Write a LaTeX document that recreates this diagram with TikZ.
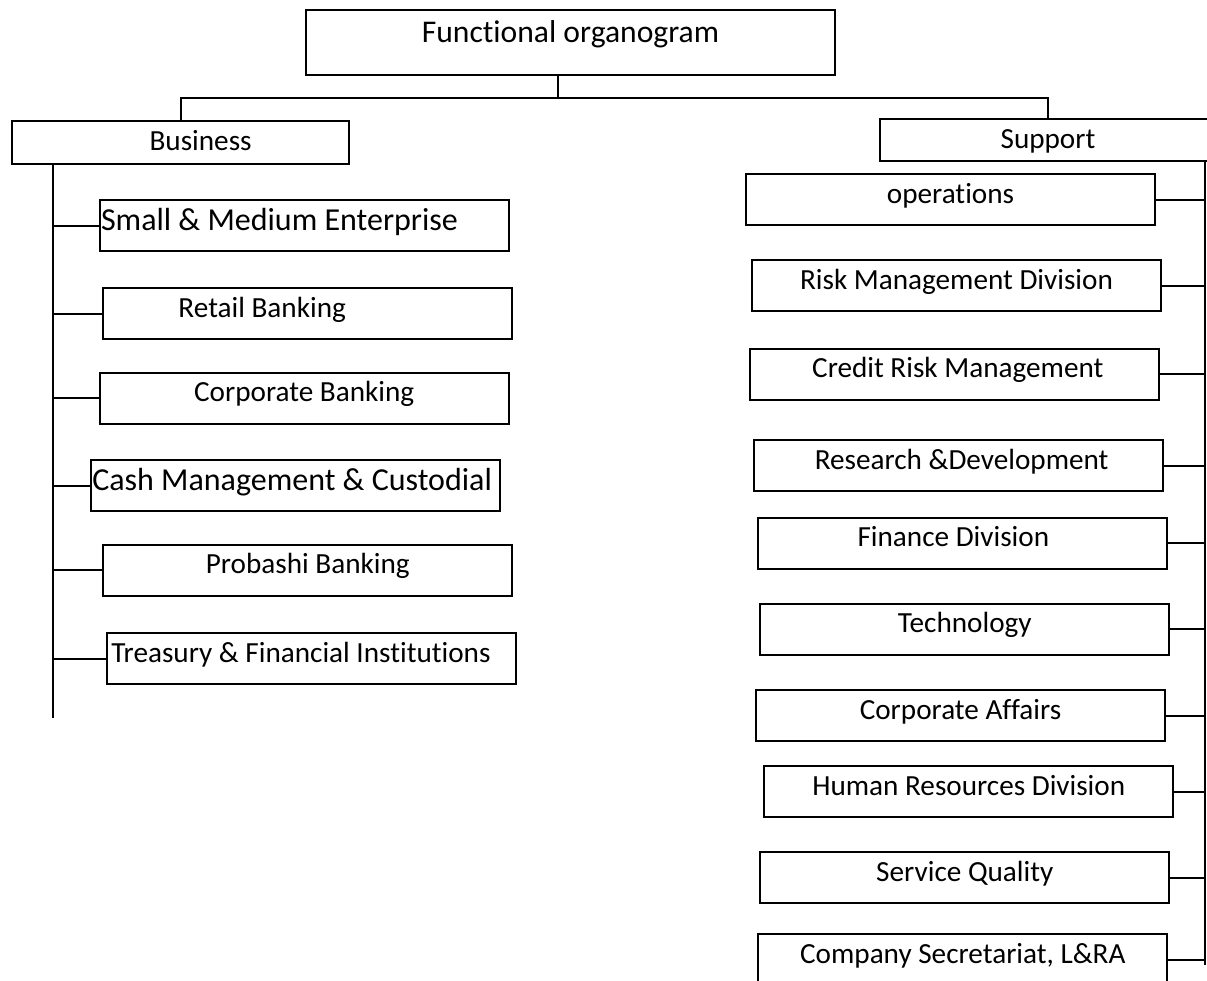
\documentclass[tikz,border=0pt]{standalone}
\usepackage{fontspec}
\setmainfont{Carlito}[Ligatures=NoCommon]
\usepackage{tikz}

\begin{document}
\begin{tikzpicture}[
  x=0.5pt, y=-0.5pt,
  every node/.style={font=\fontsize{14.6pt}{17pt}\selectfont},
  box/.style={rectangle, draw, line width=1pt, inner xsep=0pt, inner ysep=0pt, anchor=north west,
    minimum width=204.5pt, text height=14.5pt, text depth=11pt},
  bigbox/.style={box, font=\fontsize{16pt}{19pt}\selectfont, text height=15.2pt, text depth=10.3pt},
  headbox/.style={box, text depth=7pt},
  link/.style={line width=1pt}
]
  \fill[white, use as bounding box] (0,0) rectangle (1207,981);
  \clip (0,0) rectangle (1207,981);

  \node[box, font=\fontsize{15.8pt}{19pt}\selectfont, minimum width=264.5pt, text height=16.2pt, text depth=16.2pt] (top) at (305,9.3) {Functional organogram};
  \node[headbox, minimum width=168.7pt] (biz) at (11,120) {\hspace*{19.9pt}Business};
  \node[headbox, minimum width=168pt, text height=15pt, text depth=6.2pt] (sup) at (879,117.7) {Support};

  \node[bigbox] (sme) at (99,199) {\makebox[203.5pt][l]{Small \& Medium Enterprise}};
  \node[box] (retail) at (102.3,287.3) {Retail Banking\hspace*{45.6pt}};
  \node[box] (corp) at (98.7,371.7) {Corporate Banking};
  \node[bigbox] (cash) at (90.3,459.3) {\makebox[203.5pt][l]{Cash Management \& Custodial}};
  \node[box] (probashi) at (102.3,543.7) {Probashi Banking};
  \node[box] (treasury) at (106.3,632) {\makebox[202.5pt][l]{\hspace*{1pt}Treasury \& Financial Institutions}};

  \node[box] (ops) at (745,173.3) {operations};
  \node[box] (rmd) at (751,259.3) {Risk Management Division};
  \node[box] (crm) at (749.3,347.7) {\hspace*{3pt}Credit Risk Management};
  \node[box] (rnd) at (753.3,439.3) {\hspace*{2.8pt}Research \&Development};
  \node[box] (finance) at (757.3,516.7) {Finance Division\hspace*{9.4pt}};
  \node[box] (tech) at (759.3,602.7) {Technology};
  \node[box] (affairs) at (755,689) {Corporate Affairs};
  \node[box] (hr) at (763.3,765) {Human Resources Division};
  \node[box] (quality) at (759.3,851) {Service Quality};
  \node[box] (secretariat) at (757.3,933.3) {Company Secretariat, L\&RA};

  \coordinate (split) at (558,97.5);
  \coordinate (bizend) at (52.7,718);
  \coordinate (supend) at (1205,965);

  \draw[link] (top.south -| split) -- (split);
  \draw[link] (biz.north) -- (biz.north |- split) -| (sup.north);

  \draw[link] (biz.south -| bizend) -- (bizend);
  \draw[link] (sme.west) -- (sme.west -| bizend);
  \draw[link] (retail.west) -- (retail.west -| bizend);
  \draw[link] (corp.west) -- (corp.west -| bizend);
  \draw[link] (cash.west) -- (cash.west -| bizend);
  \draw[link] (probashi.west) -- (probashi.west -| bizend);
  \draw[link] (treasury.west) -- (treasury.west -| bizend);

  \draw[link] (sup.south -| supend) -- (supend);
  \draw[link] (ops.east) -- (ops.east -| supend);
  \draw[link] (rmd.east) -- (rmd.east -| supend);
  \draw[link] (crm.east) -- (crm.east -| supend);
  \draw[link] (rnd.east) -- (rnd.east -| supend);
  \draw[link] (finance.east) -- (finance.east -| supend);
  \draw[link] (tech.east) -- (tech.east -| supend);
  \draw[link] (affairs.east) -- (affairs.east -| supend);
  \draw[link] (hr.east) -- (hr.east -| supend);
  \draw[link] (quality.east) -- (quality.east -| supend);
  \draw[link] (secretariat.east) -- (secretariat.east -| supend);
\end{tikzpicture}
\end{document}
